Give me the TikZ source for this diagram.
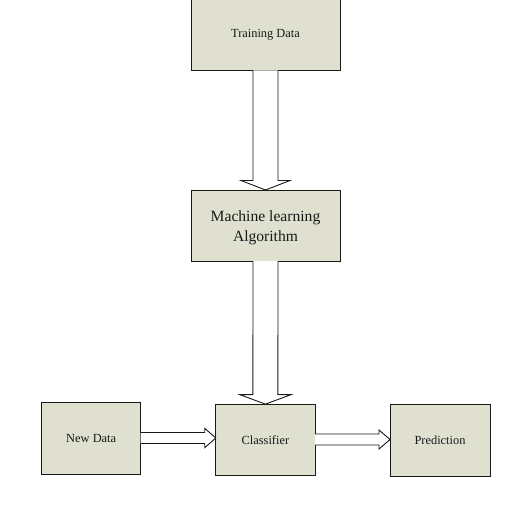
\documentclass[tikz,border=0pt]{standalone}
\usepackage{fontspec}
\setmainfont{Liberation Serif}
\usetikzlibrary{calc}
\definecolor{boxfill}{RGB}{223,224,207}
\definecolor{ink}{RGB}{25,25,25}
\tikzset{
  blk/.style={draw=ink, fill=boxfill, line width=0.9pt, inner sep=0pt, outer sep=0pt,
    align=center, text=ink, font=\fontsize{12.4}{14}\selectfont},
  bigtext/.style={font=\fontsize{15.6}{20}\selectfont, text=ink, align=center},
  blockarrow/.style={draw=ink, fill=white, line width=0.9pt, line join=miter}
}
\begin{document}
\begin{tikzpicture}[x=1pt,y=-1pt]
\useasboundingbox (0,0) rectangle (529,510);
\clip (0,0) rectangle (529,510);
\fill[white] (0,0) rectangle (529,510);
\node[blk, minimum width=149pt, minimum height=72pt] (train) at (265.5,34.5) {\raisebox{-2pt}{Training Data}};
\node[blk, minimum width=149pt, minimum height=71pt,
  label={[bigtext, yshift=-2.5pt]center:Machine learning\\Algorithm}] (mla) at (265.5,225.5) {};
\node[blk, minimum width=99pt, minimum height=72pt] (new) at (91.2,438) {New Data};
\node[blk, minimum width=99.3pt, minimum height=71.7pt] (cls) at (265.4,440) {Classifier};
\node[blk, minimum width=100pt, minimum height=72pt] (pred) at (440,440) {Prediction};
% vertical block arrows
\draw[blockarrow] ($(train.south)+(-12.5,0)$) -- ($(mla.north)+(-12.5,-9.5)$) -- ($(mla.north)+(-24.5,-9.5)$) -- (mla.north) -- ($(mla.north)+(24.5,-9.5)$) -- ($(mla.north)+(12.5,-9.5)$) -- ($(train.south)+(12.5,0)$);
\draw[blockarrow] ($(mla.south)+(-12.5,0)$) -- ($(cls.north)+(-12.5,-9.5)$) -- ($(cls.north)+(-25.5,-9.5)$) -- (cls.north) -- ($(cls.north)+(25.5,-9.5)$) -- ($(cls.north)+(12.5,-9.5)$) -- ($(mla.south)+(12.5,0)$);
% horizontal block arrows
\coordinate (clsin) at (cls.west|-new.east);
\draw[blockarrow] ($(new.east)+(0,-5.5)$) -- ($(clsin)+(-11,-5.5)$) -- ($(clsin)+(-11,-9.7)$) -- (clsin) -- ($(clsin)+(-11,9.7)$) -- ($(clsin)+(-11,5.5)$) -- ($(new.east)+(0,5.5)$);
\coordinate (predin) at ($(pred.west|-cls.east)+(0,-0.5)$);
\coordinate (clsout) at ($(cls.east)+(0,-0.5)$);
\draw[blockarrow] ($(clsout)+(0,-5.5)$) -- ($(predin)+(-11,-5.5)$) -- ($(predin)+(-11,-9.5)$) -- (predin) -- ($(predin)+(-11,9.5)$) -- ($(predin)+(-11,5.5)$) -- ($(clsout)+(0,5.5)$);
\end{tikzpicture}
\end{document}
